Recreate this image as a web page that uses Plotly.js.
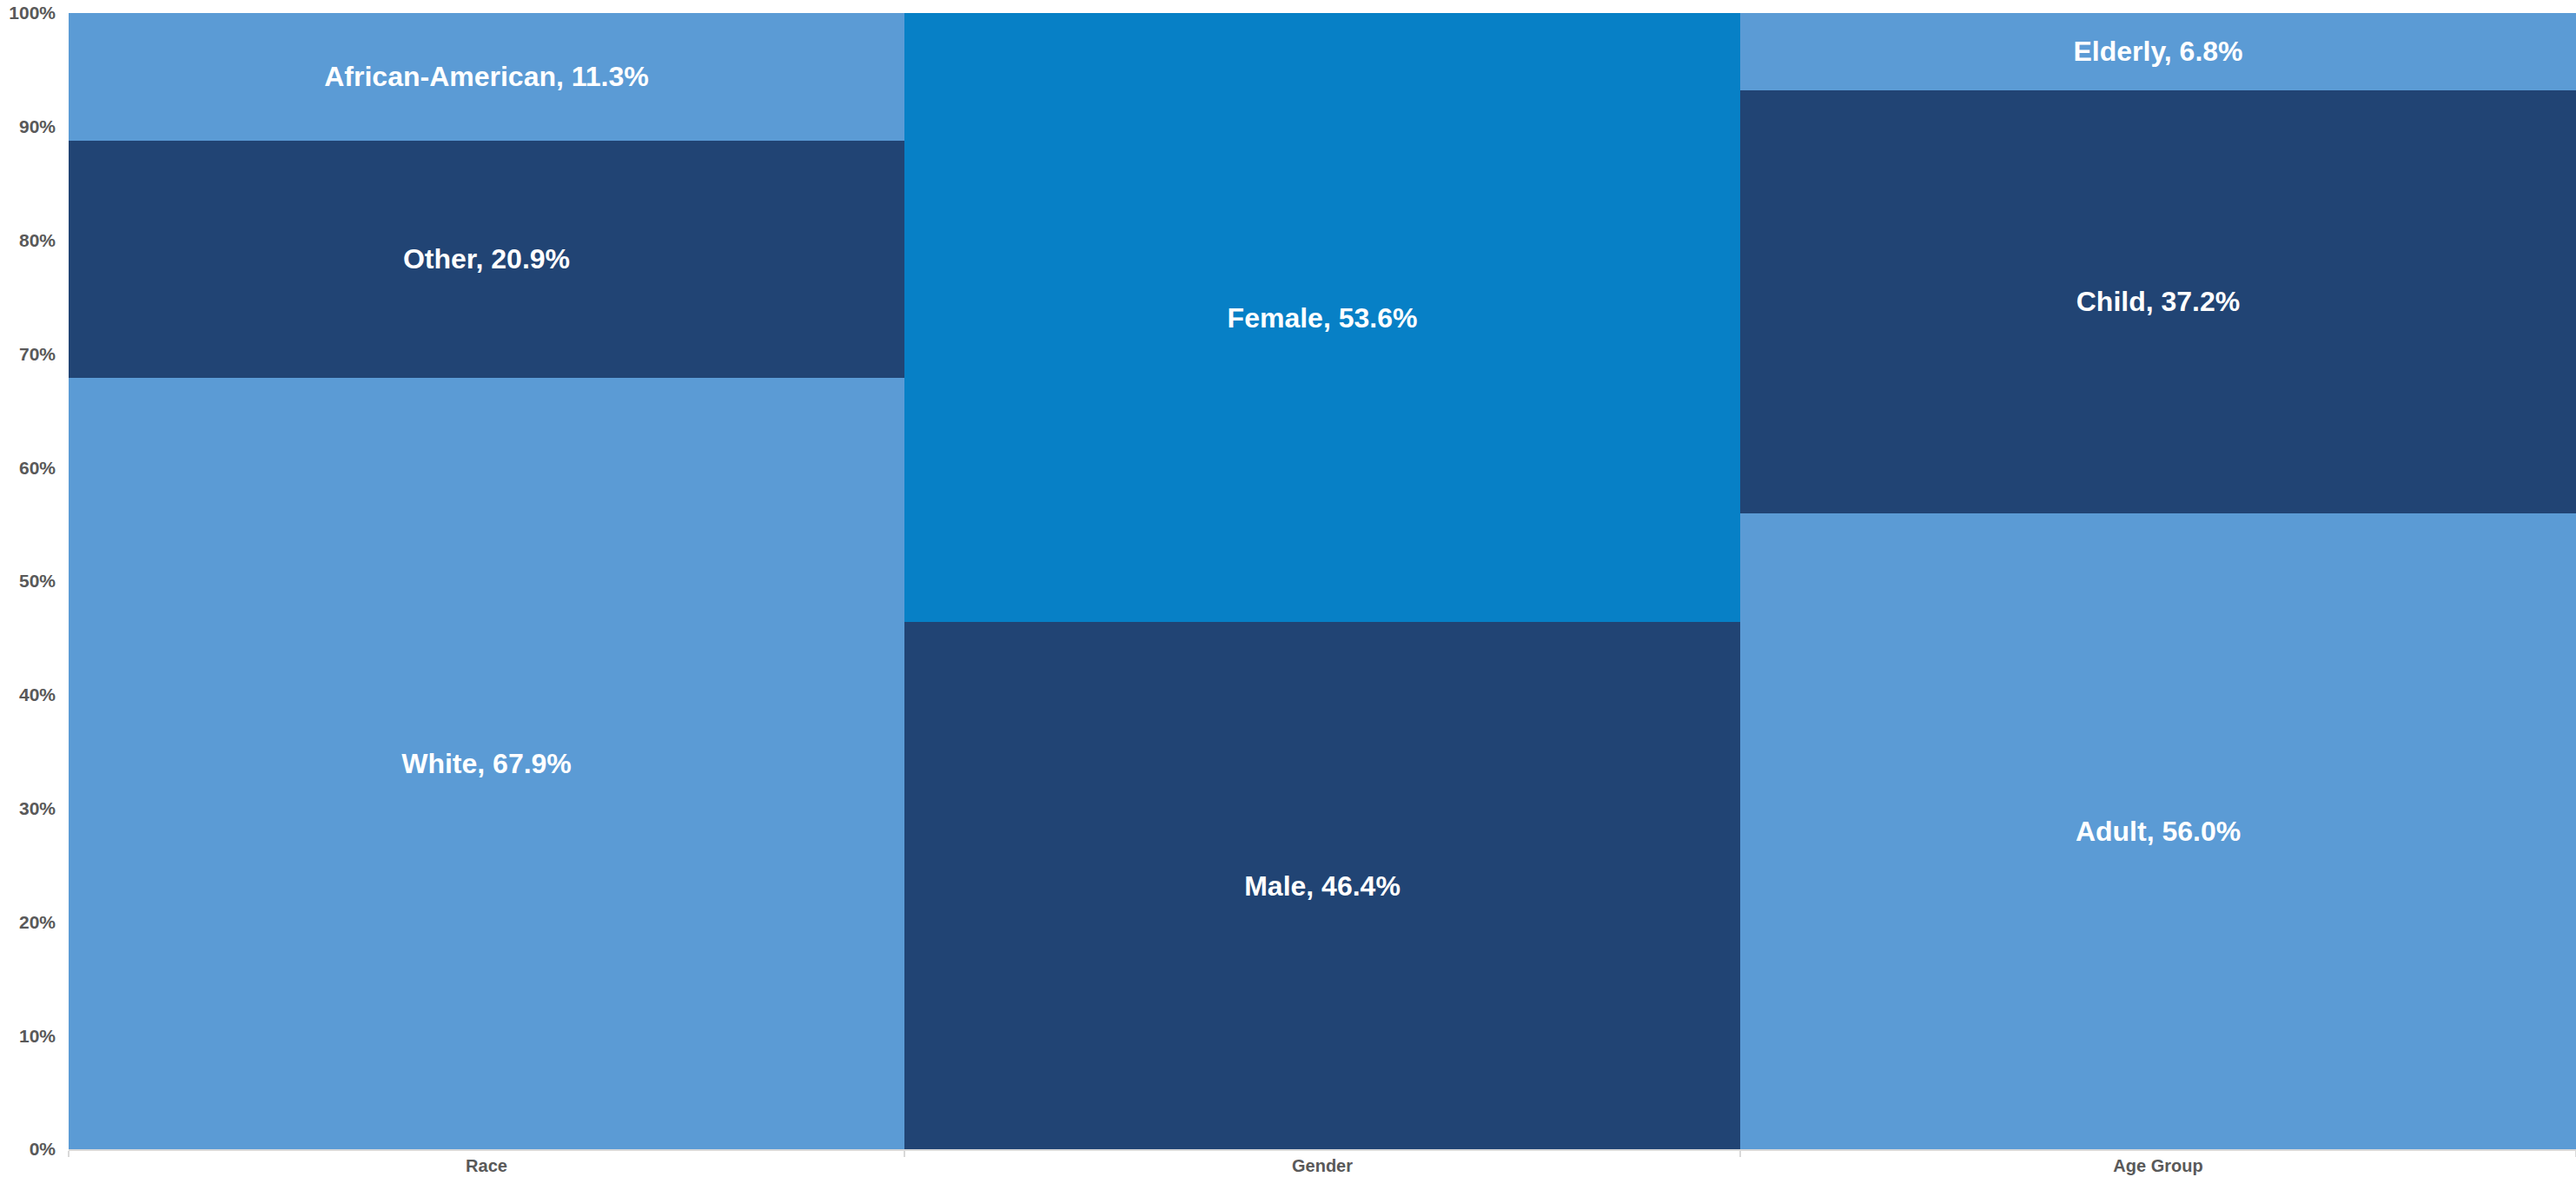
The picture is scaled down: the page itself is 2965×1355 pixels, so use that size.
<!DOCTYPE html>
<html>
<head>
<meta charset="utf-8">
<script src="https://cdn.plot.ly/plotly-3.0.1.min.js"></script>
<style>html,body{margin:0;padding:0;background:#fff}#chart{width:2965px;height:1355px}</style>
</head>
<body>
<div id="chart"></div>
<script>
const categories = ["Race", "Gender", "Age Group"];
const bottomNames = ["White", "Male", "Adult"];
const bottomValues = [67.9, 46.4, 56.0];
const middleNames = ["Other", "Female", "Child"];
const middleValues = [20.9, 53.6, 37.2];
const topNames = ["African-American", null, "Elderly"];
const topValues = [11.3, null, 6.8];
const yTickVals = [0,10,20,30,40,50,60,70,80,90,100];

const LIGHT = "#5b9bd5", NAVY = "#214474", MID = "#0780c6";
const fontFam = "Liberation Sans";

function layer(names, values, colors) {
  return {
    type: "bar",
    x: categories,
    y: values,
    customdata: names,
    marker: {color: colors, line: {width: 0}},
    texttemplate: names.map((n, i) => n ? n + ", " + values[i].toFixed(1) + "%" : ""),
    textposition: "inside",
    insidetextanchor: "middle",
    constraintext: "none",
    textfont: {family: fontFam, size: 32, color: "#ffffff", weight: "bold"},
    hoverinfo: "skip",
    showlegend: false
  };
}

const data = [
  layer(bottomNames, bottomValues, [LIGHT, NAVY, LIGHT]),
  layer(middleNames, middleValues, [NAVY, MID, NAVY]),
  layer(topNames, topValues, [LIGHT, LIGHT, LIGHT])
];

const layout = {
  width: 2965, height: 1355,
  margin: {l: 79, r: 0, t: 15, b: 32, pad: 0},
  barmode: "stack",
  bargap: 0,
  paper_bgcolor: "#ffffff",
  plot_bgcolor: "#ffffff",
  font: {family: fontFam, color: "#595959"},
  xaxis: {
    type: "category",
    tickson: "boundaries",
    ticks: "outside",
    ticklen: 7,
    tickcolor: "#d9d9d9",
    tickwidth: 2,
    showline: true,
    linecolor: "#d9d9d9",
    linewidth: 2,
    showgrid: false,
    tickfont: {family: fontFam, size: 20, color: "#595959", weight: "bold"},
    ticklabelstandoff: 0
  },
  yaxis: {
    range: [0, 100],
    tickvals: yTickVals,
    ticktext: yTickVals.map(v => v + "%"),
    showgrid: false,
    zeroline: false,
    showline: false,
    ticks: "",
    ticklabelstandoff: 14,
    tickfont: {family: fontFam, size: 21, color: "#595959", weight: "bold"}
  }
};

Plotly.newPlot("chart", data, layout, {staticPlot: true});
</script>
</body>
</html>
